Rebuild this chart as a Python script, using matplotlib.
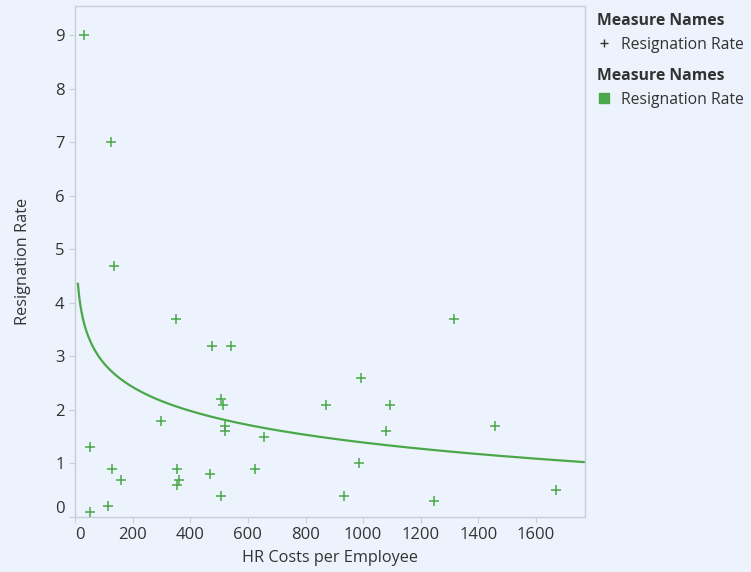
import numpy as np
import matplotlib
matplotlib.use("Agg")
import matplotlib.pyplot as plt
from matplotlib.lines import Line2D

plt.rcParams['font.family'] = ['Open Sans', 'DejaVu Sans']

# HR cost per employee vs resignation rate
hr_costs = [31, 124, 135, 352, 474, 540, 508, 514, 870, 300, 522, 522, 655,
            52, 127, 355, 624, 158, 360, 355, 468, 508, 115, 52,
            1317, 991, 1094, 1459, 1080, 986, 932, 1245, 1670]
resign_rate = [9.0, 7.0, 4.7, 3.7, 3.2, 3.2, 2.2, 2.1, 2.1, 1.8, 1.7, 1.6, 1.5,
               1.3, 0.9, 0.9, 0.9, 0.7, 0.7, 0.6, 0.8, 0.4, 0.2, 0.1,
               3.7, 2.6, 2.1, 1.7, 1.6, 1.0, 0.4, 0.3, 0.5]
x_ticks = [0, 200, 400, 600, 800, 1000, 1200, 1400, 1600]
y_ticks = [0, 1, 2, 3, 4, 5, 6, 7, 8, 9]

green = '#4aa84a'
bg = '#edf3fc'
grey = '#c9ced6'
text_col = '#333333'

fig = plt.figure(figsize=(7.51, 5.72), dpi=100, facecolor=bg)
ax = fig.add_axes([0.0999, 0.0962, 0.679, 0.8933], facecolor=bg)

x = np.array(hr_costs, dtype=float)
y = np.array(resign_rate, dtype=float)
ax.scatter(x, y, marker='+', s=55, color=green, linewidths=1.1, zorder=3)

# logarithmic trend line fitted to the data
a, b = np.polyfit(np.log(x), y, 1)
xs = np.linspace(10, 1770, 400)
ax.plot(xs, a * np.log(xs) + b, color=green, lw=1.6, zorder=2)

ax.set_xlim(0, 1770)
ax.set_ylim(0, 9.55)
ax.set_xticks(x_ticks)
ax.set_yticks(y_ticks)
ax.tick_params(colors=grey, labelcolor=text_col, labelsize=12, length=4, width=0.8)
for s in ax.spines.values():
    s.set_color(grey)
    s.set_linewidth(1)
ax.get_yticklabels()[0].set_va('bottom')
ax.get_xticklabels()[0].set_ha('left')

ax.set_xlabel('HR Costs per Employee', fontsize=11.7, color=text_col, labelpad=5)
ax.set_ylabel('Resignation Rate', fontsize=11.7, color=text_col, labelpad=17)

leg_kw = dict(loc='upper left', frameon=False, fontsize=11.3, alignment='left',
              handlelength=1, handletextpad=0.55, borderaxespad=0,
              title_fontproperties={'weight': 'bold', 'size': 11.3})
h1 = [Line2D([], [], marker='+', color=text_col, ls='none', markersize=6, mew=1)]
h2 = [Line2D([], [], marker='s', color=green, ls='none', markersize=7)]
leg1 = fig.legend(h1, ['Resignation Rate'], title='Measure Names',
                  bbox_to_anchor=(0.786, 0.988), **leg_kw)
leg2 = fig.legend(h2, ['Resignation Rate'], title='Measure Names',
                  bbox_to_anchor=(0.786, 0.892), **leg_kw)
for leg in (leg1, leg2):
    for t in leg.get_texts():
        t.set_color(text_col)
    leg.get_title().set_color(text_col)

fig.savefig('out.png', dpi=100, facecolor=bg)
